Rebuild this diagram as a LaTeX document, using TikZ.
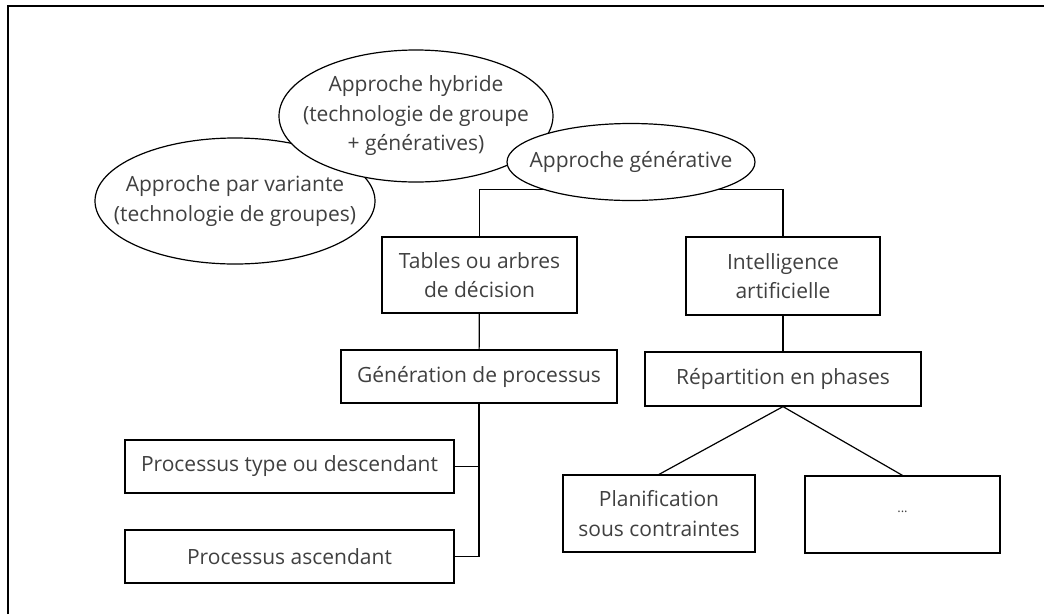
\documentclass[tikz,border=0pt]{standalone}
\usepackage{fontspec}
\setmainfont{Open Sans}
\usetikzlibrary{shapes.geometric,positioning}

\begin{document}
\begin{tikzpicture}[x=1pt,y=-1pt,
  box/.style={draw, line width=1.2pt, rectangle, inner sep=0pt, align=center, text=black!75},
  oval/.style={draw, line width=1.2pt, ellipse, fill=white, inner xsep=-30pt, inner ysep=0pt, align=center, text=black!75},
  every node/.style={font=\fontsize{21}{29.5}\selectfont}]
\useasboundingbox (0,0) rectangle (1044,614);
\draw[line width=1.8pt] (8,614) -- (8,6) -- (1044,6);

\node[box, minimum width=195pt, minimum height=76pt] (tables) at (479.5,275) {Tables ou arbres\\de décision};
\node[box, minimum width=194pt, minimum height=78pt] (intel) at (783,276) {Intelligence\\artificielle};

\node[box, minimum width=276pt, minimum height=53pt] (gen) at (479,376.5) {Génération de processus};
\node[box, minimum width=276pt, minimum height=54pt] (rep) at (783,379) {Répartition en phases};

\node[box, minimum width=329pt, minimum height=53pt] (type) at (289.5,466.5) {Processus type ou descendant};
\node[box, minimum width=329pt, minimum height=53pt] (asc) at (289.5,556.5) {Processus ascendant};

\node[box, minimum width=192pt, minimum height=77pt] (plan) at (659,513.5) {Planification\\sous contraintes};
\node[box, minimum width=195pt, minimum height=77pt] (etc) at (902.5,514.5) {\raisebox{6pt}{\fontsize{13}{13}\selectfont ...}};

\draw[line width=1.2pt] (tables.north) -- ++(0,-47) -| (intel.north);
\draw[line width=1.2pt] (tables) -- (gen);
\draw[line width=1.2pt] (intel) -- (rep);
\draw[line width=1.2pt] (gen.south) -- (gen.south |- asc.east) -- (asc.east);
\draw[line width=1.2pt] (type.east) -- (gen.south |- type.east);
\draw[line width=1.2pt] (rep.south) -- (plan.north);
\draw[line width=1.2pt] (rep.south) -- (etc.north);

\node[oval, minimum width=280pt, minimum height=126pt] (variante) at (235,201) {Approche par variante\\(technologie de groupes)};
\node[oval, minimum width=274pt, minimum height=132pt] (hybride) at (416,116) {Approche hybride\\(technologie de groupe\\+ génératives)};
\node[oval, minimum width=248pt, minimum height=77pt] (generative) at (631,162) {Approche générative};

\end{tikzpicture}
\end{document}
